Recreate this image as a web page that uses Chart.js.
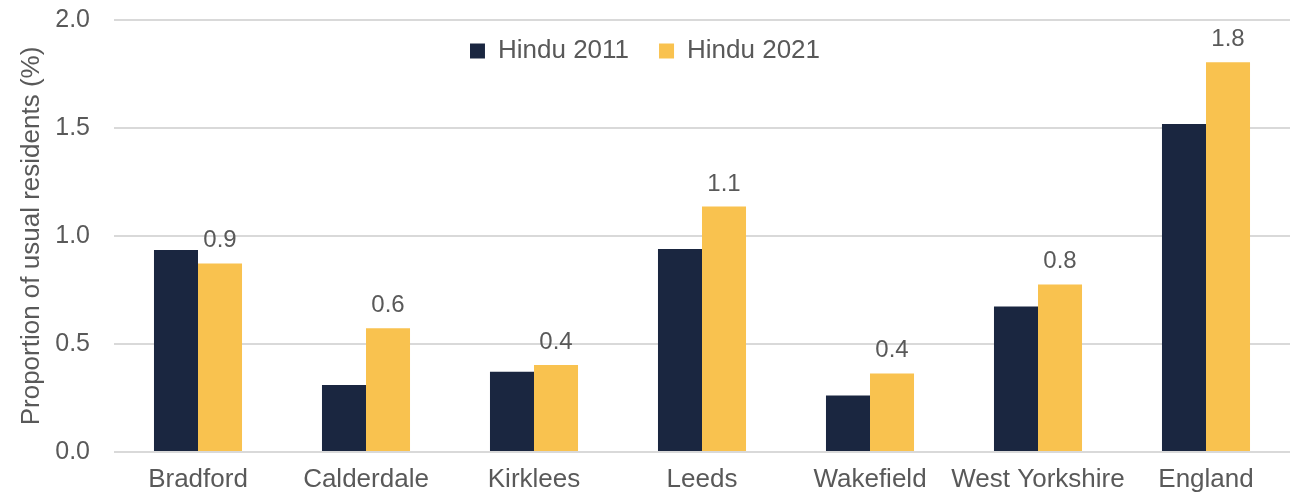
<!DOCTYPE html>
<html>
<head>
<meta charset="utf-8">
<script src="https://cdn.jsdelivr.net/npm/chart.js@4/dist/chart.umd.min.js"></script>
<style>
html,body{margin:0;padding:0;background:#fff;}
#wrap{width:1299px;height:496px;position:relative;}
</style>
</head>
<body>
<div id="wrap"><canvas id="c" width="1299" height="496"></canvas></div>
<script>
const categories = ["Bradford","Calderdale","Kirklees","Leeds","Wakefield","West Yorkshire","England"];
const hindu2011 = [0.935,0.310,0.372,0.940,0.261,0.674,1.519];
const hindu2021 = [0.873,0.573,0.403,1.136,0.364,0.776,1.804];
const seriesNames = ["Hindu 2011","Hindu 2021"];
const yTicks = [0,0.5,1.0,1.5,2.0];

const TEXT = '#595959';
const FONT = "'Liberation Sans', Arial, sans-serif";

const legendOverlay = {
  id:'legendOverlay',
  afterInit(chart){
    const lg = chart.legend;
    const origFit = lg.fit;
    lg.fit = function(){ origFit.call(this); this.height = 0; this.bottom = this.top; };
    lg.draw = function(){
      if (this.options.display) {
        const ctx = this.ctx;
        ctx.save();
        ctx.translate(0, -12);
        this._draw();
        ctx.restore();
      }
    };
  }
};

const valueLabels = {
  id:'valueLabels',
  afterDatasetsDraw(chart){
    const ctx = chart.ctx;
    const meta = chart.getDatasetMeta(1);
    ctx.save();
    ctx.fillStyle = TEXT;
    ctx.font = "24px " + FONT;
    ctx.textAlign = 'center';
    ctx.textBaseline = 'alphabetic';
    meta.data.forEach((bar,i)=>{
      const v = chart.data.datasets[1].data[i];
      ctx.fillText(v.toFixed(1), bar.x, bar.y - 16);
    });
    ctx.restore();
  }
};

new Chart(document.getElementById('c'), {
  type:'bar',
  data:{
    labels: categories,
    datasets:[
      {label: seriesNames[0], data: hindu2011, backgroundColor:'#1A2640', borderWidth:0},
      {label: seriesNames[1], data: hindu2021, backgroundColor:'#F9C24F', borderWidth:0}
    ]
  },
  options:{
    responsive:false,
    animation:false,
    devicePixelRatio:1,
    layout:{padding:{top:20,right:9,left:0,bottom:0}},
    datasets:{bar:{categoryPercentage:0.524,barPercentage:1.0}},
    plugins:{
      legend:{
        display:true,
        position:'top',
        align:'center',
        labels:{
          boxWidth:15, boxHeight:15,
          color:TEXT,
          font:{family:FONT,size:26},
          padding:30
        }
      },
      tooltip:{enabled:false}
    },
    scales:{
      x:{
        grid:{display:false, drawTicks:false},
        border:{display:false},
        ticks:{color:TEXT,font:{family:FONT,size:26},padding:12,maxRotation:0,autoSkip:false},
        afterFit(s){ s.height = 44; s.paddingLeft = 0; s.paddingRight = 0; }
      },
      y:{
        min:0,max:2,
        afterBuildTicks(s){ s.ticks = yTicks.map(v=>({value:v})); },
        grid:{color:'#D9D9D9',lineWidth:2,drawTicks:false},
        border:{display:false},
        ticks:{color:TEXT,font:{family:FONT,size:25},padding:24,callback:v=>Number(v).toFixed(1)},
        title:{display:true,text:'Proportion of usual residents (%)',color:TEXT,font:{family:FONT,size:26},padding:{top:16,bottom:0}},
        afterFit(s){ s.width = 114; s.paddingTop = 0; s.paddingBottom = 0; }
      }
    }
  },
  plugins:[legendOverlay, valueLabels]
});
</script>
</body>
</html>
